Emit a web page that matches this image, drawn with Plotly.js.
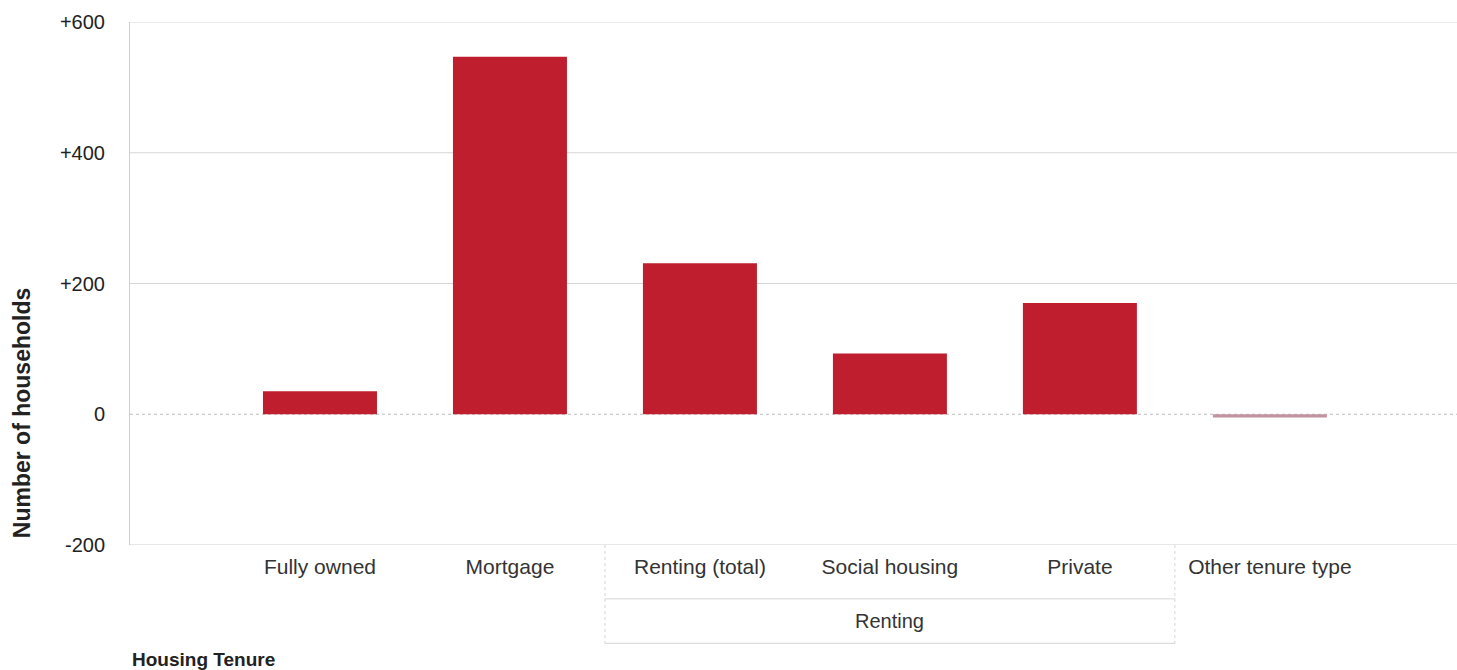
<!DOCTYPE html>
<html>
<head>
<meta charset="utf-8">
<script src="https://cdn.plot.ly/plotly-3.0.1.min.js"></script>
<style>html,body{margin:0;padding:0;background:#fff;}#chart{width:1457px;height:670px;}</style>
</head>
<body>
<div id="chart"></div>
<script>
var categories = ["Fully owned", "Mortgage", "Renting (total)", "Social housing", "Private", "Other tenure type"];
var values = [35, 547, 231, 93, 170, -5];
var barColors = ["#be1e2d", "#be1e2d", "#be1e2d", "#be1e2d", "#be1e2d", "#c0939f"];
var yTickVals = [-200, 0, 200, 400, 600];
var yTickText = ["-200", "0", "+200", "+400", "+600"];
var groupLabel = "Renting";
var groupStart = 2, groupEnd = 4;

var idx = categories.map(function(c, i){ return i; });

var font = "Liberation Sans, Arial, sans-serif";
var gridColor = "#d6d6d6";

var trace = {
  type: "bar",
  x: idx,
  y: values,
  width: 0.6,
  marker: {color: barColors, line: {width: 0}},
  hoverinfo: "skip"
};

var shapes = [];
yTickVals.forEach(function(v){
  if (v > 0) {
    shapes.push({type: "line", xref: "paper", yref: "y", x0: 0, x1: 1, y0: v, y1: v, line: {color: gridColor, width: 1}, layer: "below"});
  }
});
shapes.push({type: "line", xref: "paper", yref: "y", x0: 0, x1: 1, y0: 0, y1: 0, line: {color: "#bdbdbd", width: 1, dash: "dot"}, layer: "below"});
shapes.push({type: "line", xref: "paper", yref: "y", x0: 0, x1: 1, y0: yTickVals[0], y1: yTickVals[0], line: {color: "#cfcfcf", width: 1}});
var gx0 = groupStart - 0.5, gx1 = groupEnd + 0.5;
var boxColor = "#d4d4d4";
shapes.push({type: "line", xref: "x", yref: "paper", x0: gx0, x1: gx0, y0: 0, y1: -0.188, line: {color: boxColor, width: 1, dash: "dot"}});
shapes.push({type: "line", xref: "x", yref: "paper", x0: gx1, x1: gx1, y0: 0, y1: -0.188, line: {color: boxColor, width: 1, dash: "dot"}});
shapes.push({type: "line", xref: "x", yref: "paper", x0: gx0, x1: gx1, y0: -0.103, y1: -0.103, line: {color: boxColor, width: 1}});
shapes.push({type: "line", xref: "x", yref: "paper", x0: gx0, x1: gx1, y0: -0.188, y1: -0.188, line: {color: boxColor, width: 1}});

var annotations = [
  {text: groupLabel, xref: "x", yref: "paper", x: (groupStart + groupEnd) / 2, y: -0.1455, showarrow: false,
   font: {family: font, size: 20, color: "#333"}, xanchor: "center", yanchor: "middle"},
  {text: "<b>Housing Tenure</b>", xref: "paper", yref: "paper", x: 0, y: -0.218, showarrow: false,
   font: {family: font, size: 19, color: "#222"}, xanchor: "left", yanchor: "middle"},
  {text: "<b>Number of households</b>", xref: "paper", yref: "paper", x: 0, xshift: -108, y: 0.252, showarrow: false, textangle: -90,
   font: {family: font, size: 23, color: "#222"}, xanchor: "center", yanchor: "middle"}
];

var layout = {
  width: 1457,
  height: 670,
  margin: {l: 130, r: 0, t: 22, b: 125},
  paper_bgcolor: "#fff",
  plot_bgcolor: "#fff",
  showlegend: false,
  bargap: 0.4,
  xaxis: {
    range: [-1, 5.985],
    tickmode: "array",
    tickvals: idx,
    ticktext: categories,
    showgrid: false,
    zeroline: false,
    showline: false,
    ticks: "",
    ticklabelstandoff: 7,
    tickfont: {family: font, size: 21, color: "#333"},
    fixedrange: true
  },
  yaxis: {
    range: [-200, 600],
    tickmode: "array",
    tickvals: yTickVals,
    ticktext: yTickText,
    showgrid: false,
    zeroline: false,
    showline: true,
    linecolor: "#cfcfcf",
    linewidth: 1,
    ticks: "",
    ticklabelstandoff: 20,
    tickfont: {family: font, size: 20, color: "#222"},
    fixedrange: true
  },
  shapes: shapes,
  annotations: annotations
};

Plotly.newPlot("chart", [trace], layout, {displayModeBar: false, staticPlot: true});
</script>
</body>
</html>
